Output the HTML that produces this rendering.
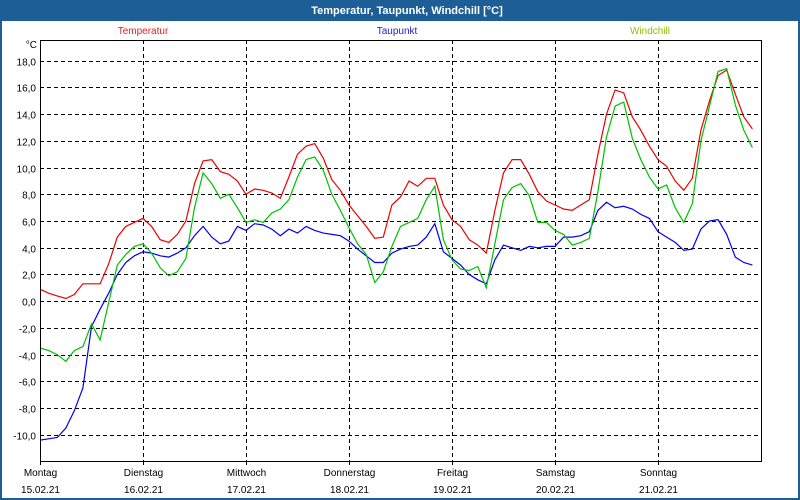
<!DOCTYPE html>
<html><head><meta charset="utf-8"><style>
html,body{margin:0;padding:0;background:#fff}
svg{display:block;font-family:"Liberation Sans",sans-serif}
</style></head><body>
<svg id="chart" width="800" height="500" viewBox="0 0 800 500">
<rect x="0" y="0" width="800" height="500" fill="#1d5e97"/>
<rect x="2" y="21" width="796" height="477" fill="#fff"/>
<text x="407" y="14" fill="#fff" font-size="11" font-weight="bold" text-anchor="middle">Temperatur, Taupunkt, Windchill [°C]</text>
<text x="143" y="34" fill="#e02020" font-size="10" text-anchor="middle">Temperatur</text>
<text x="397" y="34" fill="#2020d0" font-size="10" text-anchor="middle">Taupunkt</text>
<text x="650" y="34" fill="#90c000" font-size="10" text-anchor="middle">Windchill</text>
<text x="37" y="48" fill="#000" font-size="10" text-anchor="end">°C</text>
<g id="grid"></g><g id="series"></g><g id="axes"></g>
</svg>
<script>
const yTicks=[18,16,14,12,10,8,6,4,2,0,-2,-4,-6,-8,-10];
const yTickLabels=["18,0","16,0","14,0","12,0","10,0","8,0","6,0","4,0","2,0","0,0","-2,0","-4,0","-6,0","-8,0","-10,0"];
const dayNames=["Montag","Dienstag","Mittwoch","Donnerstag","Freitag","Samstag","Sonntag"];
const dayDates=["15.02.21","16.02.21","17.02.21","18.02.21","19.02.21","20.02.21","21.02.21"];
const temperatur=[0.9,0.6,0.4,0.2,0.5,1.3,1.3,1.3,2.8,4.8,5.6,5.9,6.2,5.6,4.6,4.4,5.0,6.0,8.8,10.5,10.6,9.7,9.5,9.0,8.0,8.4,8.3,8.1,7.7,9.3,11.0,11.6,11.8,10.7,9.1,8.3,7.2,6.4,5.6,4.7,4.8,7.2,7.8,9.0,8.6,9.2,9.2,7.2,6.1,5.6,4.6,4.2,3.6,6.8,9.6,10.6,10.6,9.5,8.2,7.5,7.2,6.9,6.8,7.2,7.6,11.0,14.0,15.8,15.6,13.8,12.8,11.6,10.6,10.1,9.0,8.3,9.2,12.8,15.0,16.9,17.3,15.5,13.8,12.9];
const windchill=[-3.5,-3.7,-4.0,-4.5,-3.7,-3.4,-1.7,-2.9,-0.1,2.7,3.5,4.1,4.3,3.6,2.5,1.9,2.2,3.2,7.0,9.6,8.8,7.7,8.0,7.0,5.9,6.1,5.9,6.6,6.9,7.6,9.3,10.6,10.8,9.8,8.0,6.8,5.5,4.3,3.5,1.4,2.2,4.1,5.6,5.9,6.2,7.6,8.6,4.6,3.1,2.4,2.3,2.6,1.0,4.3,7.6,8.5,8.8,7.9,5.9,5.9,5.3,5.0,4.2,4.4,4.7,8.2,12.3,14.6,14.9,12.2,10.6,9.3,8.4,8.7,7.0,5.9,7.3,12.0,14.6,17.2,17.4,14.7,12.8,11.5];
const taupunkt=[-10.4,-10.3,-10.2,-9.5,-8.2,-6.5,-1.9,-0.6,0.6,2.0,2.9,3.4,3.7,3.6,3.4,3.3,3.6,4.0,4.9,5.6,4.8,4.3,4.5,5.6,5.3,5.8,5.7,5.4,4.9,5.4,5.1,5.6,5.3,5.1,5.0,4.9,4.5,3.9,3.4,2.9,2.9,3.6,3.9,4.1,4.2,4.8,5.8,3.7,3.2,2.7,2.0,1.6,1.3,3.1,4.2,4.0,3.8,4.1,4.0,4.1,4.1,4.8,4.8,4.9,5.2,6.8,7.4,7.0,7.1,6.9,6.5,6.2,5.2,4.8,4.4,3.8,3.9,5.4,6.0,6.1,5.0,3.3,2.9,2.7];
const X0=40,X1=761,Y0=40,Y1=461,HOURS=168,STEP=2;
function xs(h){return X0+(X1-X0)*h/HOURS;}
function ys(v){return 301.2-v*13.36;}
const NS="http://www.w3.org/2000/svg";
function mk(t,a,p){const e=document.createElementNS(NS,t);for(const k in a)e.setAttribute(k,a[k]);p.appendChild(e);return e;}
const grid=document.getElementById('grid'),axes=document.getElementById('axes'),series=document.getElementById('series');
yTicks.forEach((v,i)=>{
  const y=Math.round(ys(v))+0.5;
  const l=mk('line',{x1:X0,x2:X1,y1:y,y2:y,stroke:'#000','stroke-dasharray':'4,3','stroke-width':1},grid);
  
  
  const t=mk('text',{x:36,y:y+4,'font-size':10,'text-anchor':'end',fill:'#000'},axes);
  t.textContent=yTickLabels[i];
  
  
});
dayNames.forEach((d,i)=>{
  const x=Math.round(xs(i*24))+0.5;
  if(i>0){const l=mk('line',{x1:x,x2:x,y1:Y0,y2:Y1,stroke:'#000','stroke-dasharray':'4,3'},grid);
  
  }
  const tk=mk('line',{x1:x,x2:x,y1:Y1,y2:Y1+4,stroke:'#000'},axes);
  
  
  const t=mk('text',{x:x,y:476,'font-size':10,'text-anchor':'middle',fill:'#000'},axes);
  t.textContent=d;
  
  
  const t2=mk('text',{x:x,y:493,'font-size':10,'text-anchor':'middle',fill:'#000'},axes);
  t2.textContent=dayDates[i];
  
  
});
const box=mk('rect',{x:X0+0.5,y:Y0+0.5,width:X1-X0,height:Y1-Y0,fill:'none',stroke:'#000'},axes);


function drawLine(arr,color,name){
  const pts=arr.map((v,i)=>xs(i*STEP).toFixed(1)+','+ys(v).toFixed(1)).join(' ');
  const p=mk('polyline',{points:pts,fill:'none',stroke:color,'stroke-width':1.2},series);
  
  
}
drawLine(taupunkt,'#0000ee','taupunkt-line');
drawLine(temperatur,'#ee0000','temperatur-line');
drawLine(windchill,'#00c000','windchill-line');
</script>
</body></html>
